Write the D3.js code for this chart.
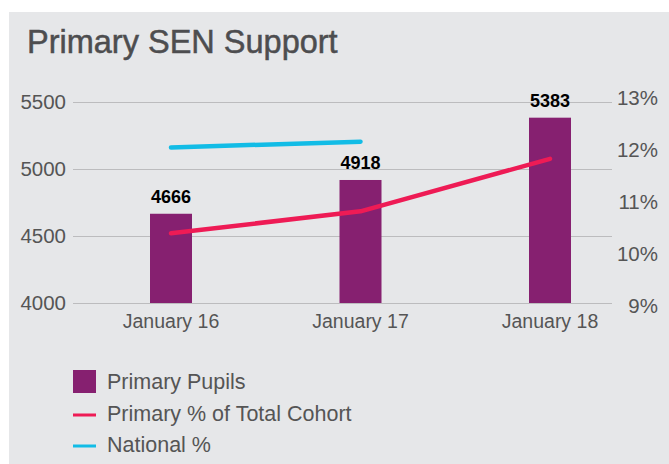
<!DOCTYPE html>
<meta charset="utf-8">
<style>
body { margin: 0; background: #fff; }
text { font-family: "Liberation Sans", Arial, sans-serif; }
</style>
<svg width="669" height="464"></svg>
<script src="https://d3js.org/d3.v7.min.js"></script>
<script>

var categories = ["January 16", "January 17", "January 18"];
var pupils = [4666, 4918, 5383];
var cohortPct = [10.4, 10.82, 11.83];
var nationalPct = [12.05, 12.16];
var leftTicks = [4000, 4500, 5000, 5500];
var rightTicks = [9, 10, 11, 12, 13];

var svg = d3.select("svg");

svg.append("rect")
   .attr("x", 9).attr("y", 12)
   .attr("width", 660).attr("height", 452)
   .attr("fill", "#e6e7e9");

svg.append("text")
   .attr("x", 27).attr("y", 53)
   .attr("font-size", "32.5px")
   .attr("fill", "#4d4d4f")
   .attr("stroke", "#4d4d4f")
   .attr("stroke-width", 0.5)
   .text("Primary SEN Support");

var x = d3.scalePoint().domain(categories).range([171, 550]);
var yL = d3.scaleLinear().domain([4000, 5500]).range([303, 102]);
var yR = d3.scaleLinear().domain([9, 13]).range([306, 98]);
var barW = 42;

// grid + left ticks
svg.append("g").selectAll("line")
   .data(leftTicks).enter().append("line")
   .attr("x1", 73).attr("x2", 612)
   .attr("y1", function(d) { return yL(d) + 0.5; })
   .attr("y2", function(d) { return yL(d) + 0.5; })
   .attr("stroke", "#bcbcbe").attr("stroke-width", 1);

svg.append("g").selectAll("text")
   .data(leftTicks).enter().append("text")
   .attr("x", 66).attr("y", function(d) { return yL(d); })
   .attr("dy", "0.36em")
   .attr("text-anchor", "end")
   .attr("font-size", "20.5px")
   .attr("fill", "#555")
   .text(function(d) { return d; });

svg.append("g").selectAll("text")
   .data(rightTicks).enter().append("text")
   .attr("x", 658).attr("y", function(d) { return yR(d); })
   .attr("dy", "0.36em")
   .attr("text-anchor", "end")
   .attr("font-size", "20.5px")
   .attr("fill", "#555")
   .text(function(d) { return d + "%"; });

svg.append("g").selectAll("text")
   .data(categories).enter().append("text")
   .attr("x", function(d) { return x(d); })
   .attr("y", 328)
   .attr("text-anchor", "middle")
   .attr("font-size", "19.5px")
   .attr("fill", "#555")
   .text(function(d) { return d; });

// bars
svg.append("g").selectAll("rect")
   .data(pupils).enter().append("rect")
   .attr("x", function(d, i) { return x(categories[i]) - barW / 2; })
   .attr("y", function(d) { return yL(d); })
   .attr("width", barW)
   .attr("height", function(d) { return yL(4000) - yL(d); })
   .attr("fill", "#862070");

svg.append("g").selectAll("text")
   .data(pupils).enter().append("text")
   .attr("x", function(d, i) { return x(categories[i]); })
   .attr("y", function(d) { return yL(d) - 11; })
   .attr("text-anchor", "middle")
   .attr("font-size", "18px")
   .attr("font-weight", "bold")
   .attr("fill", "#000")
   .text(function(d) { return d; });

// lines
var line = d3.line()
   .x(function(d, i) { return x(categories[i]); })
   .y(function(d) { return yR(d); });

svg.append("path")
   .datum(cohortPct)
   .attr("d", line)
   .attr("fill", "none")
   .attr("stroke", "#ee1b55")
   .attr("stroke-width", 4.5)
   .attr("stroke-linecap", "round")
   .attr("stroke-linejoin", "round");

svg.append("path")
   .datum(nationalPct)
   .attr("d", line)
   .attr("fill", "none")
   .attr("stroke", "#12bce6")
   .attr("stroke-width", 4.5)
   .attr("stroke-linecap", "round");

// legend
var legend = svg.append("g");
legend.append("rect")
   .attr("x", 73).attr("y", 370)
   .attr("width", 23).attr("height", 23)
   .attr("fill", "#862070");
legend.append("line")
   .attr("x1", 73).attr("x2", 96).attr("y1", 415).attr("y2", 415)
   .attr("stroke", "#ee1b55").attr("stroke-width", 3);
legend.append("line")
   .attr("x1", 73).attr("x2", 96).attr("y1", 446).attr("y2", 446)
   .attr("stroke", "#12bce6").attr("stroke-width", 3);

var legendLabels = ["Primary Pupils", "Primary % of Total Cohort", "National %"];
var legendY = [389, 421, 452];
legend.selectAll("text")
   .data(legendLabels).enter().append("text")
   .attr("x", 107)
   .attr("y", function(d, i) { return legendY[i]; })
   .attr("font-size", "21.5px")
   .attr("fill", "#555")
   .text(function(d) { return d; });

</script>
